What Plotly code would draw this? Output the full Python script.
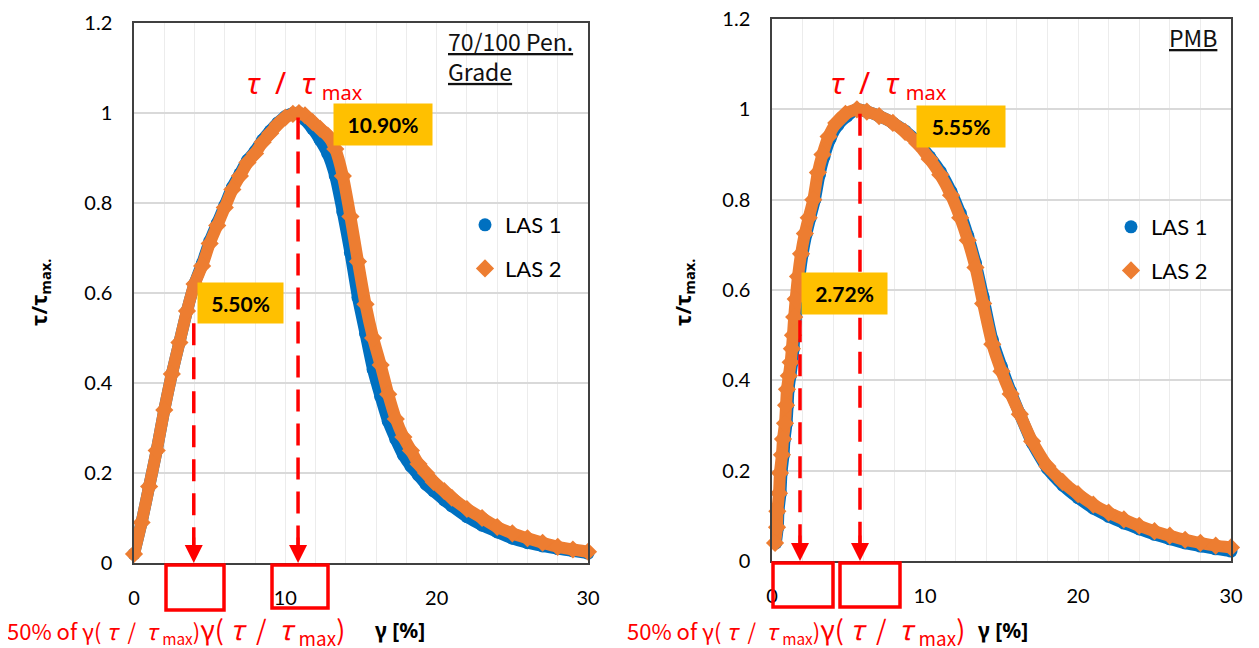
import plotly.graph_objects as go

# page is 1259x648 but the browser body has an 8px margin
OFF = 8
W, H = 1259 - OFF, 648 - OFF

# ---------------- data ----------------
# 70/100 Pen. Grade
g1_las1 = [0, 0.5, 1, 1.5, 2, 2.5, 3, 3.5, 4, 4.5, 5, 5.5, 6, 6.5, 7, 7.5, 8, 8.5, 9, 9.5, 10, 10.5, 10.9,
           11.3, 11.8, 12.3, 12.8, 13.3, 13.8, 14.3, 14.8, 15.3, 15.8, 16.3, 16.8, 17.3, 17.8, 18.3, 18.8,
           19.3, 19.8, 20.5, 21, 22, 23, 24, 25, 26, 27, 28, 29, 30]
v1_las1 = [0.02, 0.09, 0.17, 0.25, 0.34, 0.42, 0.49, 0.56, 0.62, 0.665, 0.715, 0.755, 0.795, 0.835, 0.865, 0.895,
           0.915, 0.94, 0.96, 0.978, 0.992, 0.999, 1.0,
           0.985, 0.965, 0.94, 0.91, 0.86, 0.78, 0.69, 0.59, 0.51, 0.43, 0.37, 0.315, 0.275, 0.24, 0.215, 0.195,
           0.175, 0.16, 0.14, 0.127, 0.103, 0.084, 0.069, 0.055, 0.045, 0.038, 0.032, 0.027, 0.022]
g1_las2 = [0, 0.5, 1, 1.5, 2, 2.5, 3, 3.5, 4, 4.5, 5, 5.5, 6, 6.5, 7, 7.5, 8, 8.5, 9, 9.5, 10, 10.5, 10.9,
           11.3, 11.8, 12.3, 12.8, 13.3, 13.8, 14.3, 14.8, 15.3, 15.8, 16.3, 16.8, 17.3, 17.8, 18.3, 18.8,
           19.3, 19.8, 20.5, 21, 22, 23, 24, 25, 26, 27, 28, 29, 30]
v1_las2 = [0.02, 0.09, 0.17, 0.25, 0.34, 0.42, 0.49, 0.56, 0.62, 0.66, 0.71, 0.75, 0.79, 0.83, 0.86, 0.89,
           0.91, 0.935, 0.955, 0.975, 0.99, 0.998, 1.0,
           0.995, 0.98, 0.965, 0.95, 0.92, 0.86, 0.77, 0.67, 0.575, 0.50, 0.44, 0.375, 0.32, 0.28, 0.25, 0.22,
           0.20, 0.18, 0.16, 0.145, 0.12, 0.10, 0.08, 0.066, 0.055, 0.045, 0.036, 0.03, 0.025]

# PMB
g2_las1 = [0.25, 0.38, 0.42, 0.55, 0.62, 0.75, 0.82, 0.95, 1.02, 1.08, 1.2, 1.32, 1.4, 1.47, 1.55, 1.65, 1.8,
           2.0, 2.25, 2.5, 2.8, 3.1, 3.4, 3.8, 4.3, 4.9, 5.55, 6.2, 7.0, 7.9, 8.7, 9.5, 10.3, 11.0, 11.7, 12.3,
           12.8, 13.3, 13.8, 14.4, 15.0, 15.6, 16.2, 17.0, 18.0, 19.0, 20.0, 21.0, 22.0, 23.0, 24.0, 25.0,
           26.0, 27.0, 28.0, 29.0, 30.0]
v2_las1 = [0.04, 0.075, 0.11, 0.15, 0.195, 0.235, 0.27, 0.305, 0.345, 0.38, 0.41, 0.44, 0.47, 0.5, 0.54, 0.58,
           0.63, 0.68, 0.725, 0.76, 0.8, 0.855, 0.895, 0.935, 0.965, 0.985, 1.0, 0.995, 0.985, 0.97, 0.952,
           0.928, 0.895, 0.862, 0.818, 0.77, 0.72, 0.66, 0.585, 0.49, 0.43, 0.375, 0.325, 0.262, 0.205, 0.168,
           0.14, 0.117, 0.099, 0.084, 0.071, 0.059, 0.049, 0.04, 0.033, 0.027, 0.022]
g2_las2 = [0.2, 0.33, 0.35, 0.46, 0.52, 0.65, 0.72, 0.85, 0.92, 0.98, 1.1, 1.22, 1.3, 1.37, 1.45, 1.55, 1.7,
           1.9, 2.15, 2.4, 2.7, 3.0, 3.3, 3.7, 4.2, 4.8, 5.55, 6.2, 7.0, 7.9, 8.7, 9.5, 10.3, 11.0, 11.7, 12.3,
           12.8, 13.3, 13.8, 14.4, 15.0, 15.6, 16.2, 17.0, 18.0, 19.0, 20.0, 21.0, 22.0, 23.0, 24.0, 25.0,
           26.0, 27.0, 28.0, 29.0, 30.0]
v2_las2 = [0.04, 0.075, 0.11, 0.15, 0.195, 0.235, 0.27, 0.305, 0.345, 0.38, 0.41, 0.44, 0.47, 0.5, 0.54, 0.58,
           0.63, 0.68, 0.725, 0.76, 0.8, 0.86, 0.9, 0.94, 0.97, 0.99, 1.0, 0.995, 0.985, 0.97, 0.95, 0.925,
           0.89, 0.855, 0.81, 0.76, 0.71, 0.65, 0.57, 0.48, 0.42, 0.37, 0.325, 0.265, 0.21, 0.175, 0.148, 0.125,
           0.107, 0.092, 0.078, 0.066, 0.056, 0.047, 0.04, 0.034, 0.03]

y_ticks = [0, 0.2, 0.4, 0.6, 0.8, 1.0, 1.2]
y_tick_text = ["0", "0.2", "0.4", "0.6", "0.8", "1", "1.2"]
x_ticks = [0, 10, 20, 30]
x_tick_text = ["0", "10", "20", "30"]

# gamma(tau/tau_max) and 50% of it, as drawn
peak_gamma = [10.84, 5.75]
half_gamma = [3.95, 1.83]
peak_labels = ["10.90%", "5.55%"]
half_labels = ["5.50%", "2.72%"]

BLUE = "#0070C0"
ORANGE = "#ED7D31"
RED = "#FF0000"
GOLD = "#FFC000"
FONT = "Lato"
JP = "Noto Sans CJK JP"

fig = go.Figure()


def add_series(gx, vy, xa, ya, legend, color, symbol, size, name):
    fig.add_trace(go.Scatter(x=gx, y=vy, xaxis=xa, yaxis=ya, mode="lines",
                             line=dict(color=color, width=12, shape="spline", smoothing=0.6),
                             showlegend=False, hoverinfo="skip", cliponaxis=False))
    fig.add_trace(go.Scatter(x=gx, y=vy, xaxis=xa, yaxis=ya, mode="markers", name=name,
                             marker=dict(color=color, symbol=symbol, size=size),
                             legend=legend, legendgroup=name + legend, cliponaxis=False))


add_series(g1_las1, v1_las1, "x", "y", "legend", BLUE, "circle", 13, "LAS 1")
add_series(g1_las2, v1_las2, "x", "y", "legend", ORANGE, "diamond", 14, "LAS 2")
add_series(g2_las1, v2_las1, "x2", "y2", "legend2", BLUE, "circle", 13, "LAS 1")
add_series(g2_las2, v2_las2, "x2", "y2", "legend2", ORANGE, "diamond", 14, "LAS 2")


def px_x(p):
    return (p - OFF) / W


def px_y(p):
    return 1 - (p - OFF) / H


dom_x = [[px_x(134), px_x(588)], [px_x(772), px_x(1231)]]
dom_y = [[px_y(563), px_y(23)], [px_y(561), px_y(19)]]

axis_common_x = dict(range=[0, 30], tickvals=x_ticks, ticktext=x_tick_text, showline=True, mirror=True,
                     linecolor="#404040", linewidth=1.5, gridcolor="#ececec", gridwidth=1, zeroline=False,
                     ticks="", ticklabelstandoff=16, automargin=False, ticklabeloverflow="allow",
                     tickfont=dict(family=FONT, size=20, color="#000"),
                     minor=dict(dtick=2, showgrid=True, gridcolor="#ececec", gridwidth=1))
axis_common_y = dict(range=[0, 1.2], tickvals=y_ticks, ticktext=y_tick_text, showline=True, mirror=True,
                     linecolor="#404040", linewidth=1.5, gridcolor="#d9d9d9", gridwidth=1.5, zeroline=False,
                     ticks="", ticklabelstandoff=16, automargin=False, ticklabeloverflow="allow",
                     tickfont=dict(family=FONT, size=20, color="#000"))

fig.update_layout(
    width=W, height=H, margin=dict(l=0, r=0, t=0, b=0, autoexpand=False),
    paper_bgcolor="white", plot_bgcolor="white",
    xaxis=dict(domain=dom_x[0], anchor="y", **axis_common_x),
    yaxis=dict(domain=dom_y[0], anchor="x", **axis_common_y),
    xaxis2=dict(domain=dom_x[1], anchor="y2", **axis_common_x),
    yaxis2=dict(domain=dom_y[1], anchor="x2", **axis_common_y),
    legend=dict(x=px_x(465), y=px_y(204), xanchor="left", yanchor="top", bgcolor="rgba(0,0,0,0)",
                font=dict(family=FONT, size=22, color="#000"), tracegroupgap=12, itemsizing="trace"),
    legend2=dict(x=px_x(1111), y=px_y(206), xanchor="left", yanchor="top", bgcolor="rgba(0,0,0,0)",
                 font=dict(family=FONT, size=22, color="#000"), tracegroupgap=12, itemsizing="trace"),
    showlegend=True,
)

shapes = []
annotations = []
axes = [("x", "y"), ("x2", "y2")]
half_top = [0.533, 0.533]
for i, (xa, ya) in enumerate(axes):
    shapes.append(dict(type="line", xref=xa, yref=ya, x0=peak_gamma[i], x1=peak_gamma[i], y0=0.99, y1=0.035,
                       line=dict(color=RED, width=3.5, dash="22px,12px")))
    shapes.append(dict(type="line", xref=xa, yref=ya, x0=half_gamma[i], x1=half_gamma[i], y0=half_top[i], y1=0.035,
                       line=dict(color=RED, width=3.5, dash="22px,12px")))
    for gx in (peak_gamma[i], half_gamma[i]):
        annotations.append(dict(x=gx, y=0.0, xref=xa, yref=ya, ax=gx, ay=0.06, axref=xa, ayref=ya,
                                showarrow=True, arrowhead=2, arrowsize=1.2, arrowwidth=3, arrowcolor=RED,
                                text=""))

# red boxes below the axes (pixel positions)
boxes = [(166, 565, 224, 610), (272, 565, 328, 608), (773, 563, 833, 607), (840, 563, 900, 607)]
for (x0, y0, x1, y1) in boxes:
    shapes.append(dict(type="rect", xref="paper", yref="paper", x0=px_x(x0), x1=px_x(x1), y0=px_y(y1),
                       y1=px_y(y0), line=dict(color=RED, width=3.5), fillcolor="rgba(0,0,0,0)"))

# yellow value labels: text, centre x, centre y, width, height (px)
labels = [(peak_labels[0], 383, 124, 98, 41), (half_labels[0], 240, 303, 85, 40),
          (peak_labels[1], 961, 127, 88, 41), (half_labels[1], 845, 293, 85, 41)]
for txt, cx, cy, w, h in labels:
    annotations.append(dict(x=px_x(cx), y=px_y(cy), xref="paper", yref="paper", xanchor="center",
                            yanchor="middle", text="<b>" + txt + "</b>",
                            showarrow=False, bgcolor=GOLD, width=w, height=h, borderpad=0,
                            font=dict(family=FONT, size=21, color="#000"), align="center", valign="middle"))


def A(x, y, text, size, color="#000", family=FONT, xanchor="center", yanchor="middle", **kw):
    annotations.append(dict(x=px_x(x), y=px_y(y), xref="paper", yref="paper", text=text, showarrow=False,
                            xanchor=xanchor, yanchor=yanchor,
                            font=dict(family=family, size=size, color=color), **kw))


# tau / tau_max headings
tau_head = "<i>τ</i>  /  <i>τ</i> <sub><span style='font-size:20px'>max</span></sub>"
A(305, 84, tau_head, 30, RED, "Noto Sans")
A(889, 84, tau_head, 30, RED, "Noto Sans")

# panel titles
A(446, 22, "<u>70/100 Pen.</u><br><u>Grade</u>", 23, "#111", JP, xanchor="left", yanchor="top", align="left")
A(1219, 18, "<u>PMB</u>", 23, "#111", JP, xanchor="right", yanchor="top", align="right")

# y-axis titles
ytitle = "<b>τ/τ<sub>max.</sub></b>"
A(40, 293, ytitle, 21, "#000", "Noto Sans", textangle=-90)
A(684, 293, ytitle, 21, "#000", "Noto Sans", textangle=-90)

# x-axis titles
A(400, 630, "<b>γ [%]</b>", 21, "#000", "Noto Sans")
A(1003, 630, "<b>γ [%]</b>", 21, "#000", "Noto Sans")

# red bottom captions
cap = ("50% of γ( <i>τ</i>  /  <i>τ</i> <sub>max</sub>)"
       "<span style='font-size:27px'>γ( <i>τ</i>  /  <i>τ</i> <sub>max</sub>)</span>")
A(5, 630, cap, 22, RED, JP, xanchor="left")
A(625, 630, cap, 22, RED, JP, xanchor="left")

fig.update_layout(shapes=shapes, annotations=annotations)
fig.write_html("out.html")
